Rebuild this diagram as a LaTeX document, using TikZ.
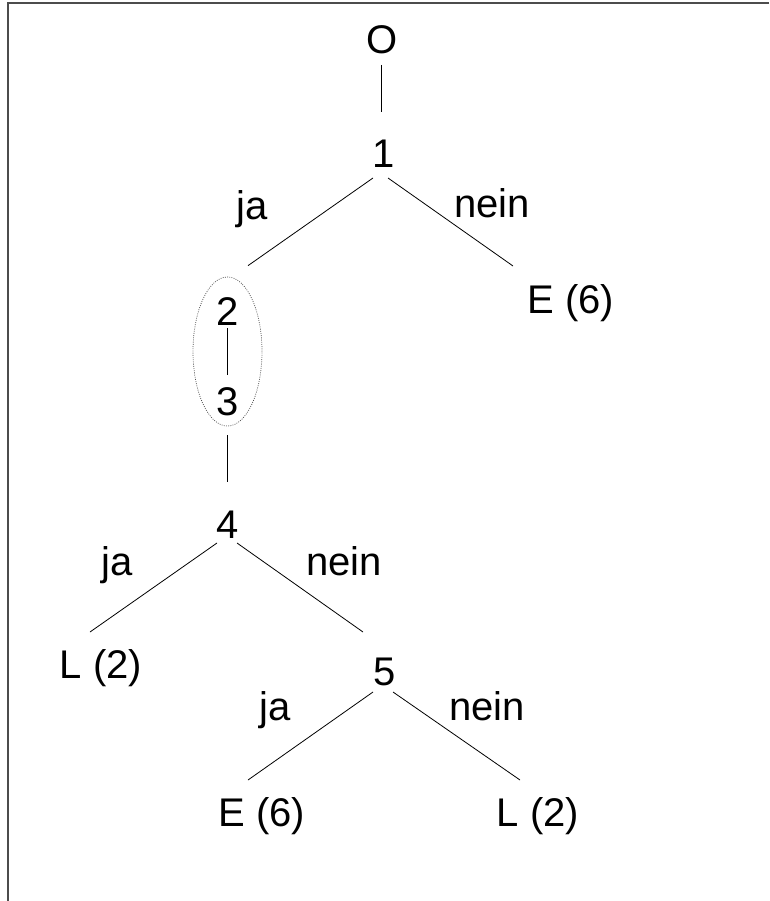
\documentclass[tikz,border=0pt]{standalone}
\usepackage{fontspec}
\setmainfont{Liberation Sans}
\usetikzlibrary{shapes.geometric}

\begin{document}
\begin{tikzpicture}[x=1pt, y=-1pt,
    txt/.style={anchor=base, inner sep=0pt, font=\fontsize{40}{48}\selectfont},
    lbl/.style={txt},
    grpbox/.style={draw=black!70, ellipse, dash pattern=on 0.9pt off 1.3pt, line width=0.7pt, minimum width=69, minimum height=149, inner sep=0pt}]
  \useasboundingbox (0,0) rectangle (769,901);
  % frame (only top and left edge)
  \draw[black!70, line width=1.5pt] (769,3) -- (8,3) -- (8,901);

  % tree nodes
  \node[txt] (n0) at (382,54) {O};
  \node[txt] (n1) at (384,168) {1};
  \node[txt] (n2) at (228,325) {2};
  \node[txt] (n3) at (228,415) {3};
  \node[grpbox] (grp) at (227.5,351.5) {}; % 2 and 3 belong together
  \node[txt] (n4) at (228,538) {4};
  \node[txt] (n5) at (385,685) {5};
  \node[txt] (e6a) at (571,313) {E (6)};
  \node[txt] (l2a) at (101,678) {L (2)};
  \node[txt] (e6b) at (262,826) {E (6)};
  \node[txt] (l2b) at (538,826) {L (2)};

  % edge labels
  \node[lbl] (ja1) at (252,219) {ja};
  \node[lbl] (nein1) at (492,218) {nein};
  \node[lbl] (ja4) at (117,575) {ja};
  \node[lbl] (nein4) at (344,575) {nein};
  \node[lbl] (ja5) at (275,720) {ja};
  \node[lbl] (nein5) at (487,720) {nein};

  % edges: from/shift/to/shift
  \foreach \a/\sa/\b/\sb in {n0.base/{(-1,11)}/n1.base/{(-3,-56)},
                             n1.base/{(-11,10)}/grp.north/{(20.5,-11)},
                             n1.base/{(4,10)}/e6a.base/{(-58,-47)},
                             n2.base/{(-1,3)}/n3.base/{(-1,-40)},
                             grp.south/{(-0.5,9)}/n4.base/{(-1,-56)},
                             n4.base/{(-11,5)}/l2a.base/{(-11,-46)},
                             n4.base/{(9,5)}/n5.base/{(-22,-53)},
                             n5.base/{(-12,7)}/e6b.base/{(-14,-46)},
                             n5.base/{(8,7)}/l2b.base/{(-18,-46)}}
    \draw[line width=0.8pt] ([shift=\sa]\a) -- ([shift=\sb]\b);
\end{tikzpicture}
\end{document}
